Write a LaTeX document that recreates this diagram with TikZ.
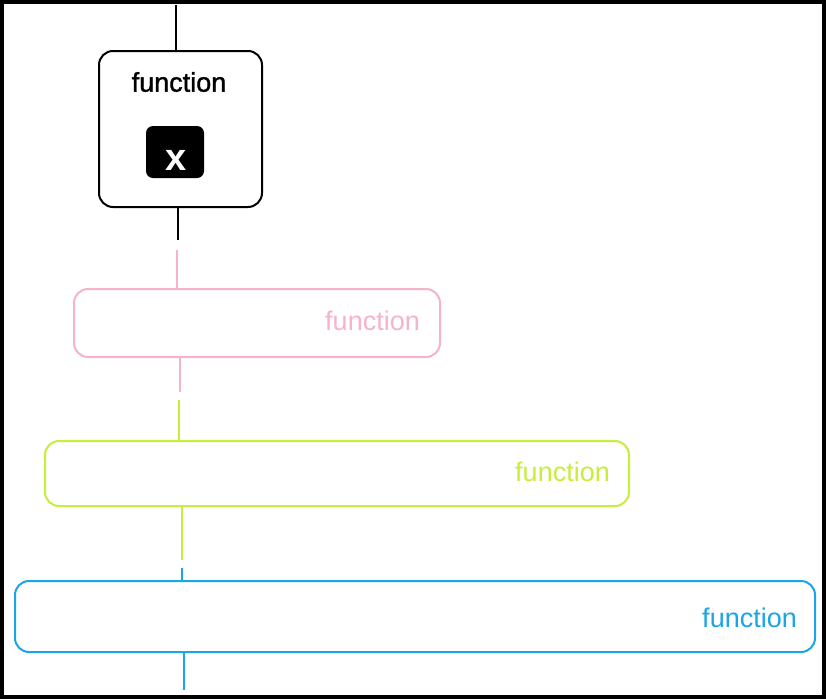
\documentclass[tikz,border=0pt]{standalone}
\usepackage{fontspec}
\setmainfont{Liberation Sans}
\definecolor{pinkc}{HTML}{F7B3CB}
\definecolor{greenc}{HTML}{C6EE3A}
\definecolor{bluec}{HTML}{1AA6E6}
\begin{document}
\begin{tikzpicture}[x=1pt,y=-1pt,
  box/.style={draw, line width=2pt, rounded corners=14pt, inner sep=0pt, anchor=north west},
  lbl/.style={font=\fontsize{27}{30}\selectfont, inner sep=0pt},
  conn/.style={line width=2.3pt}]
\useasboundingbox (0,0) rectangle (826,699);
\fill[white] (0,0) rectangle (826,699);
\draw[line width=4.5pt] (2.2,2.2) rectangle (823.8,696.8);
% black box
\node[box, minimum width=163pt, minimum height=156pt] (fx) at (98,50) {};
\node[lbl, anchor=center, font=\fontsize{27}{30}\selectfont\addfontfeatures{FakeBold=1.2}] (fxl) at (179,82) {function};
\node[fill=black, rounded corners=7pt, minimum width=58pt, minimum height=52pt, inner sep=0pt, text=white] (xb) at (175,152) {};
\node[text=white, inner sep=0pt, font=\fontsize{38}{40}\selectfont\bfseries] (xl) at (176,160) {x};
\coordinate (top) at (176,5);
\draw[conn] (top) -- (top |- fx.north);
\coordinate (b1) at (178,240);
\draw[conn] (fx.south -| b1) -- (b1);
% pink box
\node[box, draw=pinkc, minimum width=366pt, minimum height=68pt] (pk) at (73,288) {};
\node[lbl, text=pinkc, anchor=east] (pkl) at ([xshift=-21pt,yshift=2.5pt]pk.east) {function};
\coordinate (p1) at (177,250);
\draw[conn, pinkc] (p1) -- (p1 |- pk.north);
\coordinate (p2) at (180,392);
\draw[conn, pinkc] (pk.south -| p2) -- (p2);
% green box
\node[box, draw=greenc, minimum width=584pt, minimum height=65pt] (gr) at (44,440) {};
\node[lbl, text=greenc, anchor=east] (grl) at ([xshift=-20pt,yshift=1.5pt]gr.east) {function};
\coordinate (g1) at (179,400);
\draw[conn, greenc] (g1) -- (g1 |- gr.north);
\coordinate (g2) at (182,560);
\draw[conn, greenc] (gr.south -| g2) -- (g2);
% blue box
\node[box, draw=bluec, minimum width=800pt, minimum height=71pt] (bl) at (14,580) {};
\node[lbl, text=bluec, anchor=east] (bll) at ([xshift=-19pt,yshift=-1.5pt]bl.east) {function};
\coordinate (u1) at (182,568);
\draw[conn, bluec] (u1) -- (u1 |- bl.north);
\coordinate (u2) at (184,690);
\draw[conn, bluec] (bl.south -| u2) -- (u2);
\end{tikzpicture}
\end{document}
